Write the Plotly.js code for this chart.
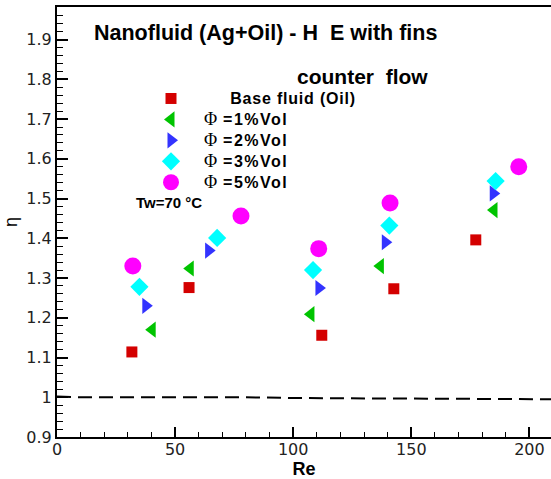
<!DOCTYPE html>
<html>
<head>
<meta charset="utf-8">
<script src="https://cdn.plot.ly/plotly-3.0.1.min.js"></script>
<style>html,body{margin:0;padding:0;background:#fff;}#chart{width:551px;height:479px;}</style>
</head>
<body>
<div id="chart"></div>
<script>
// Data
const reBase = [31.7, 55.9, 112.1, 142.6, 177.3];
const etaBase = [1.114, 1.276, 1.156, 1.273, 1.396];
const re1 = [40.3, 56.4, 107.5, 136.9, 185.0];
const eta1 = [1.170, 1.324, 1.209, 1.330, 1.471];
const re2 = [37.6, 64.2, 110.9, 139.0, 184.7];
const eta2 = [1.230, 1.369, 1.275, 1.390, 1.513];
const re3 = [34.9, 67.8, 108.4, 140.7, 185.7];
const eta3 = [1.278, 1.401, 1.320, 1.432, 1.544];
const re5 = [32.1, 77.9, 110.8, 141.0, 195.5];
const eta5 = [1.330, 1.456, 1.374, 1.489, 1.580];
const refRe = [0, 10, 50, 80, 100, 150, 200, 210];
const refEta = [1.002, 1.0, 1.0, 1.0, 0.998, 0.997, 0.995, 0.995];

const phi = '<span style="font-family:Liberation Serif;font-weight:normal;font-size:18px">Φ</span>';
const spaced = t => '<span style="font-size:16px;letter-spacing:1.5px">' + t + '</span>';
const seriesNames = [
  '<span style="font-size:16px;letter-spacing:0.8px">&nbsp;&nbsp;&nbsp;&nbsp;&nbsp;Base fluid (Oil)</span>',
  phi + spaced(' =1%Vol'),
  phi + spaced(' =2%Vol'),
  phi + spaced(' =3%Vol'),
  phi + spaced(' =5%Vol')
];
const xTickVals = [0, 50, 100, 150, 200];
const xTickText = ['0', '50', '100', '150', '200'];
const yTickVals = [0.9, 1.0, 1.1, 1.2, 1.3, 1.4, 1.5, 1.6, 1.7, 1.8, 1.9];
const yTickText = ['0.9', '1', '1.1', '1.2', '1.3', '1.4', '1.5', '1.6', '1.7', '1.8', '1.9'];

const W = 551, H = 479, ML = 57, MR = 0, MT = 7, MB = 42;
const pw = W - ML - MR, ph = H - MT - MB;
const px = x => (x - ML) / pw;
const py = y => 1 - (y - MT) / ph;

const traces = [
  {x: refRe, y: refEta, mode: 'lines', showlegend: false, hoverinfo: 'skip',
   line: {color: '#000', width: 2, dash: '14px,7px'}},
  {x: reBase, y: etaBase, mode: 'markers', name: seriesNames[0],
   marker: {symbol: 'square', size: 11, color: '#d40000'}},
  {x: re1, y: eta1, mode: 'markers', name: seriesNames[1],
   marker: {symbol: 'triangle-left', size: 14, color: '#00c400'}},
  {x: re2, y: eta2, mode: 'markers', name: seriesNames[2],
   marker: {symbol: 'triangle-right', size: 14, color: '#3333ff'}},
  {x: re3, y: eta3, mode: 'markers', name: seriesNames[3],
   marker: {symbol: 'diamond', size: 14, color: '#00ffff'}},
  {x: re5, y: eta5, mode: 'markers', name: seriesNames[4],
   marker: {symbol: 'circle', size: 17, color: '#ff00ff'}}
];

const font = 'Liberation Sans, Arial, sans-serif';
const tickFont = 'DejaVu Sans, sans-serif';
const layout = {
  width: W, height: H,
  margin: {l: ML, r: MR, t: MT, b: MB, pad: 0},
  paper_bgcolor: '#fff', plot_bgcolor: '#fff',
  font: {family: font, color: '#000'},
  xaxis: {
    range: [0, (W - ML) / 2.362], showgrid: false, zeroline: false,
    showline: true, linecolor: '#000', linewidth: 2, mirror: true,
    ticks: 'inside', ticklen: 10, tickwidth: 2, tickcolor: '#000',
    tickvals: xTickVals, ticktext: xTickText, ticklabelstandoff: -3,
    tickfont: {family: tickFont, size: 16, color: '#222'},
    minor: {dtick: 10, tick0: 0, ticks: 'inside', ticklen: 5, tickwidth: 1, tickcolor: '#000'},
    title: {text: '<b>Re</b>', font: {family: font, size: 18, color: '#000'}, standoff: 8}
  },
  yaxis: {
    range: [0.9, 1.982], showgrid: false, zeroline: false,
    showline: true, linecolor: '#000', linewidth: 2, mirror: false,
    ticks: 'inside', ticklen: 11, tickwidth: 2, tickcolor: '#000',
    tickvals: yTickVals, ticktext: yTickText,
    tickfont: {family: tickFont, size: 16, color: '#222'},
    minor: {dtick: 0.02, tick0: 0.9, ticks: 'inside', ticklen: 6, tickwidth: 1, tickcolor: '#000'},
    title: {text: 'η', font: {family: font, size: 18, color: '#000'}, standoff: 4}
  },
  showlegend: true,
  legend: {
    x: px(138), y: py(83), xanchor: 'left', yanchor: 'top',
    bgcolor: 'rgba(0,0,0,0)', borderwidth: 0,
    font: {family: font, size: 13.8, color: '#000', weight: 'bold'},
    itemsizing: 'trace', itemwidth: 56, tracegroupgap: 0
  },
  annotations: [
    {xref: 'paper', yref: 'paper', x: px(92), y: py(33), xanchor: 'left', yanchor: 'middle',
     text: '<b>Nanofluid (Ag+Oil) - H  E with fins</b>', showarrow: false,
     font: {family: font, size: 21.5, color: '#000'}},
    {xref: 'paper', yref: 'paper', x: px(295), y: py(76), xanchor: 'left', yanchor: 'middle',
     text: '<b>counter  flow</b>', showarrow: false,
     font: {family: font, size: 21, color: '#000'}},
    {xref: 'paper', yref: 'paper', x: px(134), y: py(203), xanchor: 'left', yanchor: 'middle',
     text: '<b>Tw=70 °C</b>', showarrow: false,
     font: {family: font, size: 15, color: '#000'}}
  ]
};

Plotly.newPlot('chart', traces, layout, {staticPlot: true, displayModeBar: false});
</script>
</body>
</html>
